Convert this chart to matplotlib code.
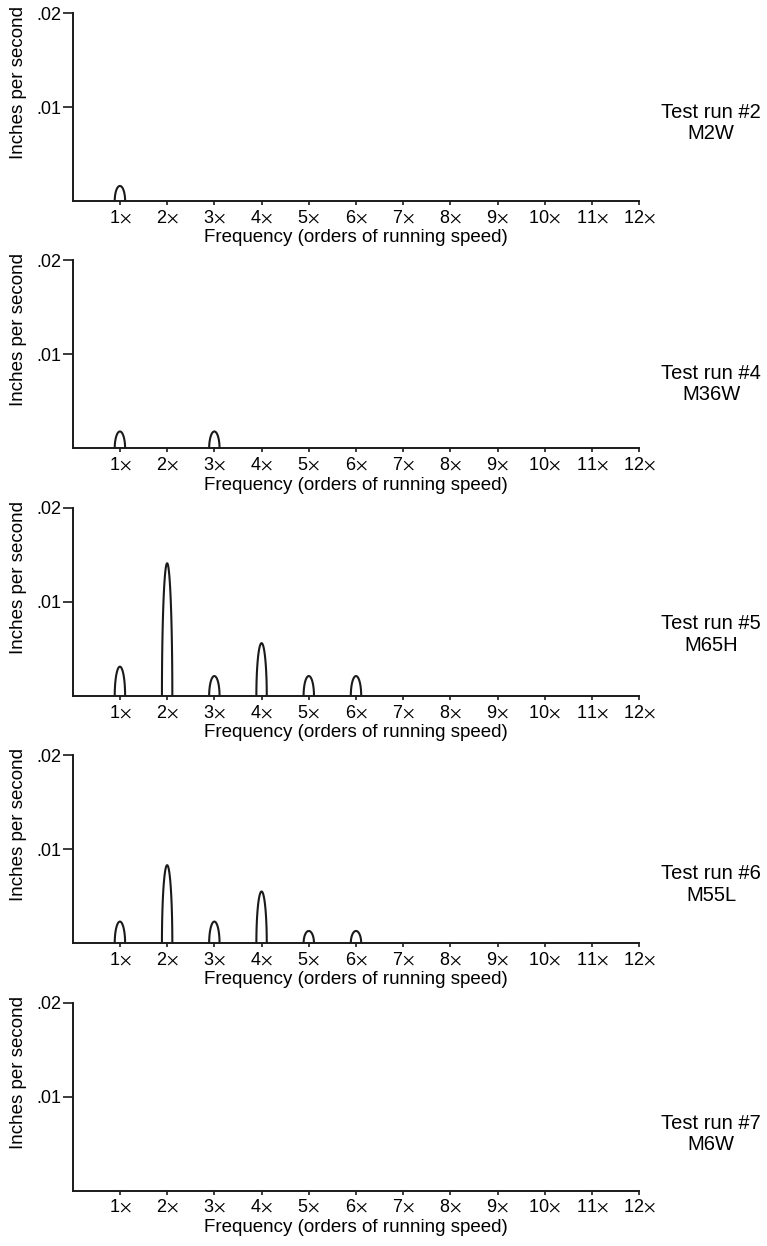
"""Vibration spectra for five test runs, stacked panels."""

import matplotlib

matplotlib.use("Agg")
import matplotlib.pyplot as plt
import numpy as np

plt.rcParams["font.family"] = ["Liberation Sans", "DejaVu Sans"]
plt.rcParams["mathtext.fontset"] = "stixsans"

# peak amplitudes (inches per second) at each order of running speed
ORDERS = [1, 2, 3, 4, 5, 6]
RUN_NAMES = ["Test run #2\nM2W", "Test run #4\nM36W", "Test run #5\nM65H",
             "Test run #6\nM55L", "Test run #7\nM6W"]
RUN2 = [0.0016, 0, 0, 0, 0, 0]
RUN4 = [0.0018, 0, 0.0018, 0, 0, 0]
RUN5 = [0.0031, 0.0141, 0.0021, 0.0056, 0.0021, 0.0021]
RUN6 = [0.0023, 0.0083, 0.0023, 0.0055, 0.0013, 0.0013]
RUN7 = [0, 0, 0, 0, 0, 0]
RUNS = [RUN2, RUN4, RUN5, RUN6, RUN7]

XTICKS = list(range(1, 13))
XTICKLABELS = [f"{k}" + r"$\times$" for k in XTICKS]
YTICKS = [0.01, 0.02]
YTICKLABELS = [".01", ".02"]

W, H = 767, 1246
LEFT, RIGHT = 72.7, 639.3
TOP0, BASE0, STEP = 13.0, 201.0, 247.4
LABEL_Y = [110.7, 371.7, 622.0, 872.0, 1121.7]
INK = "#1a1a1a"
HALF_W = 0.11


def peak(ax, center, height):
    t = np.linspace(0, np.pi, 80)
    x = center - HALF_W * np.cos(t)
    y = height * np.sin(t)
    ax.plot(x, y, color=INK, lw=1.5, solid_capstyle="butt", clip_on=False)


fig = plt.figure(figsize=(W / 100, H / 100), dpi=100)
for i, (vals, name) in enumerate(zip(RUNS, RUN_NAMES)):
    top = TOP0 + i * STEP
    base = BASE0 + i * STEP
    ax = fig.add_axes([LEFT / W, 1 - base / H, (RIGHT - LEFT) / W, (base - top) / H])
    for c, v in zip(ORDERS, vals):
        if v > 0:
            peak(ax, c, v)
    ax.set_xlim(0, 12)
    ax.set_ylim(0, 0.02)
    for s in ("top", "right"):
        ax.spines[s].set_visible(False)
    for s in ("left", "bottom"):
        ax.spines[s].set_linewidth(1.4)
        ax.spines[s].set_color(INK)
    ax.set_xticks(XTICKS)
    ax.set_xticklabels(XTICKLABELS, fontsize=13)
    ax.set_yticks(YTICKS)
    ax.set_yticklabels(YTICKLABELS, fontsize=13)
    ax.tick_params(axis="x", direction="out", length=3, width=1.2, pad=3, color=INK)
    ax.tick_params(axis="y", direction="out", length=7, width=1.2, pad=1.5, color=INK)
    ax.set_xlabel("Frequency (orders of running speed)", fontsize=13.5, labelpad=2)
    ax.text(-0.0965, 0.63, "Inches per second", transform=ax.transAxes,
            rotation=90, ha="center", va="center", fontsize=13.5)
    fig.text(711 / W, 1 - (LABEL_Y[i] + 12.5) / H, name, ha="center", va="center",
             multialignment="center", fontsize=14.5, linespacing=1.15)

fig.savefig("out.png", dpi=100)
